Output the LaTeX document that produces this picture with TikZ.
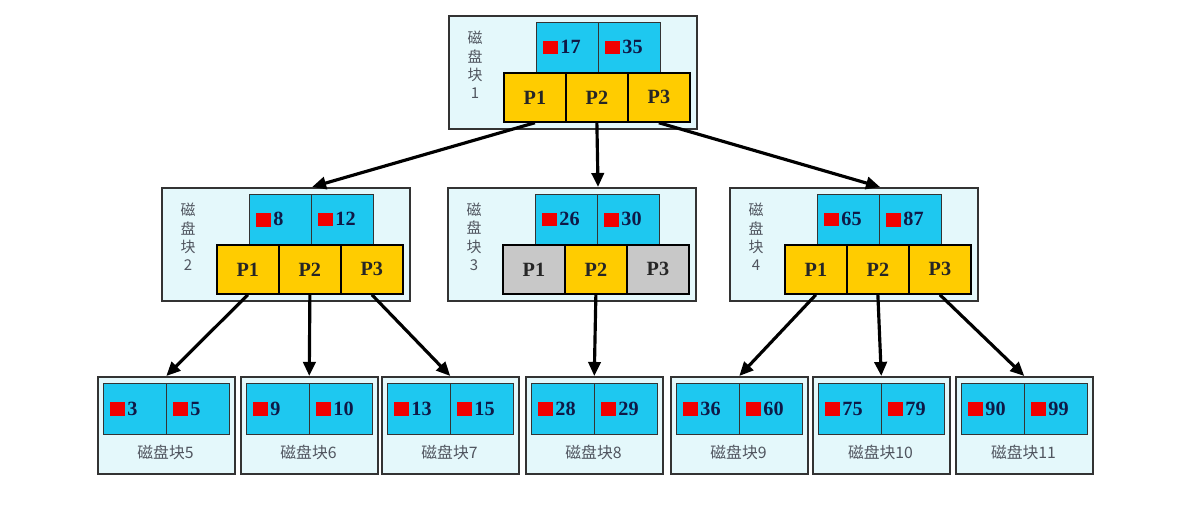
\documentclass[tikz,border=0pt]{standalone}
\usepackage{fontspec}
\setmainfont{Liberation Serif}
\newfontfamily\cjk{Noto Sans CJK SC}
\usetikzlibrary{arrows.meta}
\definecolor{diskbg}{RGB}{228,248,251}
\definecolor{keycyan}{RGB}{30,200,240}
\definecolor{ptryellow}{RGB}{255,204,0}
\definecolor{ptrgray}{RGB}{200,200,200}
\definecolor{keyred}{RGB}{240,0,0}
\definecolor{keyink}{RGB}{15,25,70}
\definecolor{labelink}{RGB}{80,85,95}
\newcommand\keymark{{\color{keyred}\rule[-0.3pt]{9pt}{7.8pt}}\hspace{1.2pt}}
\begin{document}
\begin{tikzpicture}[x=0.02cm, y=-0.02cm,
  disk/.style={draw=black!80, fill=diskbg, line width=0.9pt, anchor=north west, minimum width=4.96cm, minimum height=2.26cm, inner sep=0},
  leaf/.style={disk, minimum width=2.74cm, minimum height=1.94cm},
  key/.style={draw=black!80, fill=keycyan, line width=0.6pt, anchor=north west, minimum height=1.0cm, text width=1.0cm, inner xsep=0.12cm, inner ysep=0, align=left, text=keyink, font=\fontsize{11.5}{12}\selectfont\bfseries},
  leafkey/.style={key, minimum height=1.02cm, text width=1.02cm},
  pcell/.style={draw=black, fill=ptryellow, line width=1pt, anchor=north west, minimum width=1.24cm, minimum height=0.98cm, inner sep=0, text=black!85, font=\fontsize{11.5}{12}\selectfont\bfseries},
  pnull/.style={pcell, fill=ptrgray},
  vlabel/.style={align=center, text=labelink, font=\cjk\fontsize{8.5}{10.5}\selectfont},
  hlabel/.style={text=labelink, font=\cjk\fontsize{9}{10}\selectfont},
  link/.style={line width=1.8pt, -{Triangle[length=8pt,width=7pt]}}]
\useasboundingbox (0,0) rectangle (1200,527);
\foreach \n/\bx/\by/\ka/\kb/\num/\ca/\cb/\cc in {b1/448/15/17/35/1/pcell/pcell/pcell, b2/161/187/8/12/2/pcell/pcell/pcell, b3/447/187/26/30/3/pnull/pcell/pnull, b4/729/187/65/87/4/pcell/pcell/pcell}
{
  \node[disk] (\n) at (\bx,\by) {};
  \node[vlabel] (\n lbl) at (\bx+27,\by+50) {磁\\盘\\块\\\num};
  \node[key] (\n k1) at (\bx+88,\by+7) {\keymark\ka};
  \node[key] (\n k2) at (\bx+150,\by+7) {\keymark\kb};
  \node[\ca] (\n p1) at (\bx+55,\by+57) {P1};
  \node[\cb] (\n p2) at (\bx+117,\by+57) {P2};
  \node[\cc] (\n p3) at (\bx+179,\by+57) {P3};
}
\foreach \n/\bx/\ka/\kb/\num in {l5/97/3/5/5, l6/240/9/10/6, l7/381/13/15/7, l8/525/28/29/8, l9/670/36/60/9, l10/812/75/79/10, l11/955/90/99/11}
{
  \node[leaf] (\n) at (\bx,376) {};
  \node[leafkey] (\n k1) at (\bx+6,383) {\keymark\ka};
  \node[leafkey] (\n k2) at (\bx+69,383) {\keymark\kb};
  \node[hlabel] (\n lbl) at (\bx+68.5,452) {磁盘块\num};
}
\foreach \a/\b in {b1p1/b2, b1p2/b3, b1p3/b4} \draw[link] (\a.south) -- (\b k1.north east |- \b.north);
\foreach \a/\b in {b2p1/l5, b2p2/l6, b2p3/l7, b3p2/l8, b4p1/l9, b4p2/l10, b4p3/l11} \draw[link] (\a.south) -- (\b.north);
\end{tikzpicture}
\end{document}
